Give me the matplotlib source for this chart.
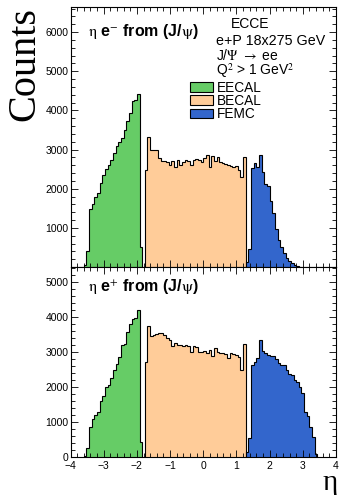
import numpy as np
import matplotlib.pyplot as plt
from matplotlib.ticker import MultipleLocator

plt.rcParams['font.family'] = ['Liberation Sans', 'DejaVu Sans']
plt.rcParams['mathtext.fontset'] = 'stix'

# 100 bins in eta from -4 to 4
eta_edges = np.linspace(-4, 4, 101)

# ---- electron (e-) : counts per bin, starting at bin index *_first ----
eecal_first = 5
eecal_em = [40, 410, 1480, 1620, 1780, 1900, 2150, 2340, 2500, 2600, 2720,
            2900, 3080, 3200, 3300, 3500, 3720, 3930, 4250, 4270, 4410, 500]
becal_first = 28
becal_em = [2490, 3325, 2985, 3000, 3000, 2790, 2710, 2710, 2690, 2600, 2700,
            2560, 2740, 2600, 2690, 2720, 2700, 2600, 2740, 2770, 2730, 2690,
            2790, 2850, 2560, 2830, 2710, 2800, 2690, 2650, 2620, 2600, 2590,
            2560, 2590, 2490, 2300, 2815]
femc_first = 66
femc_em = [130, 470, 2540, 2650, 2560, 2850, 2430, 2110, 2070, 1680, 1370,
           970, 690, 520, 350, 220, 150, 110, 50, 20, 10]

# ---- positron (e+) ----
eecal_ep = [30, 250, 870, 1080, 1200, 1300, 1600, 1750, 1990, 2050, 2250,
            2490, 2660, 2870, 3200, 3230, 3580, 3790, 3930, 3980, 4200, 420]
becal_ep = [2705, 3743, 3457, 3486, 3514, 3533, 3552, 3486, 3390, 3343, 3171,
            3248, 3200, 3200, 3171, 3200, 3171, 3010, 3171, 3152, 3010, 3010,
            3038, 2981, 3057, 2886, 3105, 3010, 2981, 2962, 2943, 2838, 2962,
            2943, 2914, 2848, 2486, 3229]
femc_ep = [150, 530, 2630, 2720, 2820, 3330, 3020, 2980, 2910, 2890, 2880,
           2800, 2680, 2640, 2620, 2480, 2380, 2330, 2200, 2150, 2010, 1820,
           1300, 1170, 870, 560, 80]

labels = ['EECAL', 'BECAL', 'FEMC']
colors = ['#66cc66', '#ffcc99', '#3366cc']
firsts = [eecal_first, becal_first, femc_first]

W, H = 339, 495
fig = plt.figure(figsize=(W / 100, H / 100), dpi=100)
ax1 = fig.add_axes([70.5 / W, 1 - 267 / H, 265.5 / W, 260 / H])
ax2 = fig.add_axes([70.5 / W, 1 - 457 / H, 265.5 / W, 190 / H])


def draw(ax, series):
    for first, vals, col, lab in zip(firsts, series, colors, labels):
        e = eta_edges[first:first + len(vals) + 1]
        ax.stairs(vals, e, fill=True, facecolor=col, edgecolor='black',
                  linewidth=0.8, label=lab)
    ax.set_xlim(-4, 4)
    ax.xaxis.set_major_locator(MultipleLocator(1))
    ax.xaxis.set_minor_locator(MultipleLocator(0.2))
    ax.yaxis.set_major_locator(MultipleLocator(1000))
    ax.yaxis.set_minor_locator(MultipleLocator(200))
    ax.tick_params(which='both', direction='in', top=True, right=True,
                   labelsize=7.5, width=0.6)
    ax.tick_params(which='major', length=5)
    ax.tick_params(which='minor', length=2.6)
    ax.tick_params(axis='y', pad=1.5)
    ax.tick_params(axis='x', pad=3)
    for s in ax.spines.values():
        s.set_linewidth(0.8)


draw(ax1, [eecal_em, becal_em, femc_em])
draw(ax2, [eecal_ep, becal_ep, femc_ep])

ax1.set_ylim(0, 6640)
ax1.set_yticks([1000, 2000, 3000, 4000, 5000, 6000])
ax1.tick_params(labelbottom=False)
ax2.set_ylim(0, 5430)
ax2.set_yticks([0, 1000, 2000, 3000, 4000, 5000])

ax1.text(0.066, 0.904, r'$\mathrm{\eta}$ e$^{-}$ from (J/$\mathrm{\psi}$)',
         transform=ax1.transAxes, fontsize=11.5, fontweight='bold',
         ha='left', va='center')
ax2.text(0.066, 0.895, r'$\mathrm{\eta}$ e$^{+}$ from (J/$\mathrm{\psi}$)',
         transform=ax2.transAxes, fontsize=11.5, fontweight='bold',
         ha='left', va='center')

ax1.text(0.676, 0.933, 'ECCE', transform=ax1.transAxes, fontsize=10,
         ha='center', va='center')
ax1.text(0.548, 0.871, 'e+P 18x275 GeV', transform=ax1.transAxes, fontsize=10.3,
         ha='left', va='center')
ax1.text(0.548, 0.815, r'J/$\Psi$ $\rightarrow$ ee', transform=ax1.transAxes,
         fontsize=10, ha='left', va='center')
ax1.text(0.548, 0.754, 'Q$^{2}$ > 1 GeV$^{2}$', transform=ax1.transAxes,
         fontsize=10, ha='left', va='center')

ax1.legend(loc='upper left', bbox_to_anchor=(0.45, 0.717), frameon=False,
           fontsize=9.8, handlelength=1.7, handleheight=0.7, handletextpad=0.3,
           labelspacing=-0.05, borderpad=0, borderaxespad=0)

fig.text(6 / W, 1 - 7 / H, 'Counts', rotation=90, ha='left', va='top',
         fontsize=29, family='Liberation Serif')
fig.text(338 / W, 1 - 490 / H, 'η', ha='right', va='baseline',
         fontsize=21, family='Liberation Serif')

fig.savefig('out.png', dpi=100)
